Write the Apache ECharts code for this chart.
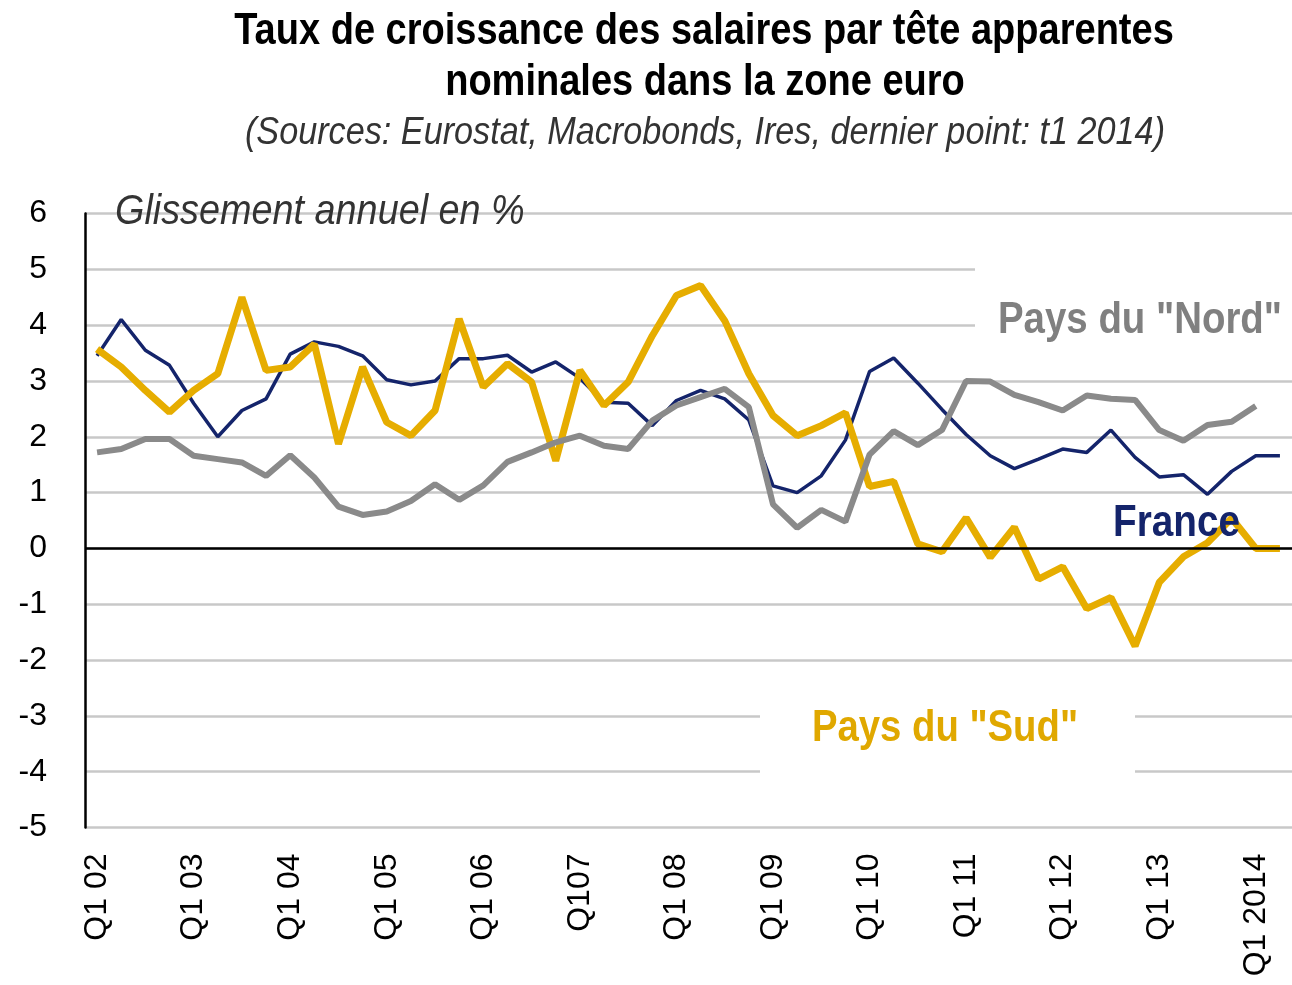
<!DOCTYPE html>
<html>
<head>
<meta charset="utf-8">
<script src="https://cdn.jsdelivr.net/npm/echarts@6/dist/echarts.min.js"></script>
<style>
  html, body { margin: 0; padding: 0; background: #fff; }
  #chart { width: 1292px; height: 985px; }
</style>
</head>
<body>
<div id="chart"></div>
<script>
// tick labels shown under the axis (first quarter of each year)
const tickLabels = ['Q1 02', 'Q1 03', 'Q1 04', 'Q1 05', 'Q1 06', 'Q107', 'Q1 08', 'Q1 09', 'Q1 10', 'Q1 11', 'Q1 12', 'Q1 13', 'Q1 2014']
const years = ['02', '03', '04', '05', '06', '07', '08', '09', '10', '11', '12', '13', '14']

// quarterly categories, Q1 2002 .. Q2 2014
const categories = []
years.forEach((y, k) => {
  for (let q = 1; q <= 4; q++) {
    if (k === years.length - 1 && q > 2) break
    categories.push(q === 1 ? tickLabels[k] : 'Q' + q + ' ' + y)
  }
})

const france = [
  3.45, 4.1, 3.55, 3.28, 2.6, 2.0, 2.47, 2.68, 3.48, 3.7,
  3.62, 3.45, 3.02, 2.93, 3.0, 3.4, 3.4, 3.46, 3.16, 3.34,
  3.05, 2.62, 2.6, 2.2, 2.65, 2.83, 2.68, 2.3, 1.12, 1.0,
  1.3, 1.94, 3.17, 3.41, 2.96, 2.49, 2.04, 1.66, 1.43, 1.6,
  1.78, 1.72, 2.12, 1.63, 1.28, 1.32, 0.97, 1.38, 1.66, 1.66
]
const sud = [
  3.57, 3.25, 2.83, 2.44, 2.83, 3.13, 4.5, 3.19, 3.25, 3.66,
  1.87, 3.25, 2.26, 2.02, 2.47, 4.11, 2.89, 3.31, 2.98, 1.57,
  3.19, 2.56, 2.98, 3.81, 4.53, 4.71, 4.08, 3.13, 2.38, 2.02,
  2.2, 2.43, 1.11, 1.2, 0.08, -0.06, 0.55, -0.16, 0.38, -0.55,
  -0.33, -1.08, -0.88, -1.75, -0.61, -0.15, 0.1, 0.54, 0, 0
]
const nord = [
  1.72, 1.78, 1.96, 1.96, 1.66, 1.6, 1.54, 1.3, 1.67, 1.27,
  0.75, 0.6, 0.66, 0.85, 1.15, 0.87, 1.13, 1.55, 1.72, 1.9,
  2.02, 1.84, 1.78, 2.29, 2.56, 2.71, 2.86, 2.53, 0.79, 0.37,
  0.69, 0.48, 1.68, 2.1, 1.85, 2.12, 3.0, 2.99, 2.75, 2.62,
  2.47, 2.74, 2.68, 2.66, 2.12, 1.93, 2.21, 2.27, 2.55, null
]

const FONT = "'Liberation Sans', Arial, sans-serif"

const chart = echarts.init(document.getElementById('chart'))
chart.setOption({
  animation: false,
  backgroundColor: '#fff',
  grid: { left: 85, top: 213.5, width: 1216.5, height: 614 },
  xAxis: {
    type: 'category',
    data: categories,
    boundaryGap: true,
    axisLine: { show: false },
    axisTick: { show: false },
    axisLabel: { interval: 3, rotate: 90, margin: 26, fontSize: 32, color: '#000', fontFamily: FONT }
  },
  yAxis: {
    type: 'value',
    min: -5,
    max: 6,
    interval: 1,
    axisLine: { show: true, lineStyle: { color: '#000', width: 2.5 } },
    axisTick: { show: false },
    axisLabel: { margin: 38, fontSize: 32, color: '#000', fontFamily: FONT },
    splitLine: { lineStyle: { color: '#c8c8c8', width: 2.5 } }
  },
  series: [
    {
      name: 'France',
      type: 'line',
      data: france,
      symbol: 'none',
      lineStyle: { color: '#14246b', width: 3.5 },
      markLine: {
        silent: true,
        symbol: 'none',
        label: { show: false },
        lineStyle: { color: '#000', width: 2.5, type: 'solid' },
        data: [{ yAxis: 0 }]
      }
    },
    {
      name: 'Pays du "Sud"',
      type: 'line',
      data: sud,
      symbol: 'none',
      lineStyle: { color: '#e6ad00', width: 7 }
    },
    {
      name: 'Pays du "Nord"',
      type: 'line',
      data: nord,
      symbol: 'none',
      lineStyle: { color: '#8a8a8a', width: 6 }
    }
  ],
  graphic: [
    { type: 'text', x: 704, y: 32, scaleX: 0.864, z: 10,
      style: { text: 'Taux de croissance des salaires par tête apparentes', fontFamily: FONT, fontSize: 44, fontWeight: 'bold', fill: '#000', align: 'center', verticalAlign: 'middle' } },
    { type: 'text', x: 705, y: 83, scaleX: 0.864, z: 10,
      style: { text: 'nominales dans la zone euro', fontFamily: FONT, fontSize: 44, fontWeight: 'bold', fill: '#000', align: 'center', verticalAlign: 'middle' } },
    { type: 'text', x: 705, y: 133, scaleX: 0.9, z: 10,
      style: { text: '(Sources: Eurostat, Macrobonds, Ires, dernier point: t1 2014)', fontFamily: FONT, fontSize: 38, fontStyle: 'italic', fill: '#333', align: 'center', verticalAlign: 'middle' } },
    { type: 'text', x: 115, y: 212, scaleX: 0.9, z: 10,
      style: { text: 'Glissement annuel en %', fontFamily: FONT, fontSize: 42, fontStyle: 'italic', fill: '#333', align: 'left', verticalAlign: 'middle' } },
    { type: 'rect', z: 5, shape: { x: 975, y: 255, width: 330, height: 90 }, style: { fill: '#fff' } },
    { type: 'text', x: 998, y: 321, scaleX: 0.873, z: 10,
      style: { text: 'Pays du "Nord"', fontFamily: FONT, fontSize: 44, fontWeight: 'bold', fill: '#808080', align: 'left', verticalAlign: 'middle' } },
    { type: 'text', x: 1113, y: 524, scaleX: 0.88, z: 10,
      style: { text: 'France', fontFamily: FONT, fontSize: 44, fontWeight: 'bold', fill: '#14246b', align: 'left', verticalAlign: 'middle' } },
    { type: 'rect', z: 5, shape: { x: 760, y: 700, width: 375, height: 85 }, style: { fill: '#fff' } },
    { type: 'text', x: 812, y: 729, scaleX: 0.87, z: 10,
      style: { text: 'Pays du "Sud"', fontFamily: FONT, fontSize: 44, fontWeight: 'bold', fill: '#e0a800', align: 'left', verticalAlign: 'middle' } }
  ]
})
</script>
</body>
</html>
